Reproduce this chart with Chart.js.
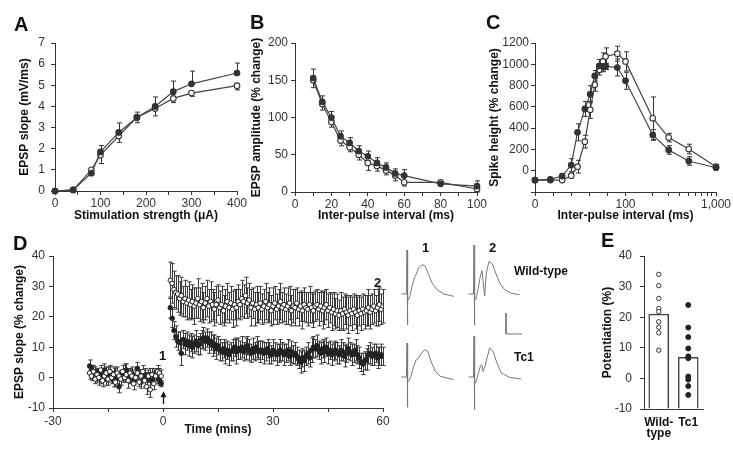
<!DOCTYPE html>
<html>
<head>
<meta charset="utf-8">
<script src="https://cdn.jsdelivr.net/npm/chart.js@4.4.1/dist/chart.umd.min.js"></script>
<style>
    body { margin: 0; background: #fff; }
    #fig { position: relative; width: 733px; height: 450px; overflow: hidden;
           font-family: 'Liberation Sans', Arial, Helvetica, sans-serif; color: #111; }
    #fig canvas { position: absolute; }
    .lbl { position: absolute; font-weight: bold; line-height: 1; white-space: nowrap; }
    .panel { font-size: 20px; }
    .small { font-size: 13px; }
    .name { font-size: 12px; }
</style>
</head>
<body>
<div id="fig">
    <canvas id="chartA" width="255" height="228" style="left:0;top:0"></canvas>
    <canvas id="chartB" width="255" height="228" style="left:240px;top:0"></canvas>
    <canvas id="chartC" width="253" height="228" style="left:480px;top:0"></canvas>
    <canvas id="chartD" width="400" height="220" style="left:0;top:230px"></canvas>
    <canvas id="chartE" width="143" height="220" style="left:590px;top:230px"></canvas>

    <canvas id="traceWT1" width="58" height="87" style="left:399px;top:242px"></canvas>
    <canvas id="traceWT2" width="58" height="87" style="left:466px;top:242px"></canvas>
    <canvas id="traceTc1a" width="58" height="87" style="left:399px;top:325px"></canvas>
    <canvas id="traceTc1b" width="58" height="87" style="left:466px;top:325px"></canvas>
    <canvas id="scaleBar" width="20" height="25" style="left:504px;top:311px"></canvas>

    <div class="lbl panel" style="left:14px;top:14px">A</div>
    <div class="lbl panel" style="left:250px;top:12px">B</div>
    <div class="lbl panel" style="left:486px;top:12px">C</div>
    <div class="lbl panel" style="left:13px;top:233px">D</div>
    <div class="lbl panel" style="left:601px;top:230px">E</div>

    <div class="lbl small" style="left:159px;top:349px">1</div>
    <div class="lbl small" style="left:374px;top:276px">2</div>
    <div class="lbl small" style="left:422px;top:241px">1</div>
    <div class="lbl small" style="left:489px;top:241px">2</div>
    <div class="lbl name" style="left:514px;top:265px">Wild-type</div>
    <div class="lbl name" style="left:514px;top:351px">Tc1</div>
</div>

<script>
// ---- A: input/output curve ----
const stimUA = [0, 40, 80, 100, 140, 180, 220, 260, 300, 400];
const slopeWT = [0, 0.05, 1.0, 1.7, 2.6, 3.48, 3.9, 4.38, 4.63, 4.98];
const slopeWTErr = [0, 0, 0.15, 0.4, 0.3, 0.25, 0.35, 0.2, 0.15, 0.2];
const slopeTc1 = [0, 0.05, 0.84, 1.85, 2.77, 3.48, 4.0, 4.7, 5.07, 5.58];
const slopeTc1Err = [0, 0, 0.2, 0.3, 0.45, 0.25, 0.45, 0.5, 0.6, 0.47];

// ---- B: paired-pulse facilitation ----
const ppfIpi = [10, 15, 20, 25, 30, 35, 40, 45, 50, 55, 60, 80, 100];
const ppfWT = [150, 118, 94, 69, 60, 50, 39, 35, 29, 22, 13, 13, 4];
const ppfWTErr = [10, 8, 7, 7, 6, 7, 10, 7, 6, 7, 5, 3, 4];
const ppfTc1 = [153, 121, 100, 75, 66, 55, 48, 39, 33, 25, 22, 11, 8];
const ppfTc1Err = [12, 8, 8, 7, 7, 7, 7, 7, 6, 6, 8, 3, 7];

// ---- C: population spike facilitation ----
const popIpi = [0, 17, 30, 40, 47, 55, 61, 66, 71, 75, 78, 91, 100, 200, 300, 500, 1000];
const popWT = [-88, -88, -88, -47, 38, 273, 572, 807, 949, 1027, 1074, 1100, 1027, 493, 311, 204, 38];
const popWTErr = [0, 0, 0, 20, 60, 60, 80, 60, 50, 80, 80, 70, 90, 200, 40, 45, 15];
const popTc1 = [-88, -82, -50, 53, 361, 581, 719, 892, 986, 980, 980, 970, 845, 336, 195, 91, 28];
const popTc1Err = [0, 0, 20, 60, 80, 70, 80, 50, 60, 50, 30, 80, 80, 50, 40, 40, 15];

// ---- D: LTP time course (one sample every 30 s) ----
const dStep = 0.5;
const dPreStart = -20;
const dPostStart = 2;
const ltpPreWT = [
    1.5, 0.5, 2.0, -0.5, 1.0, 0.0, 2.5, -1.0, 0.5, 1.5,
    -0.5, 2.0, 0.0, 1.0, -1.5, 1.5, 0.5, -0.5, 2.0, 0.0,
    1.0, -1.0, 1.5, 0.5, -2.0, 0.0, 1.5, -1.5, 0.5, 2.0,
    -1.0, -3.0, 0.5, -4.0, 1.0, -2.0, 0.5, 2.0, 1.5, 0.5];
const ltpPreWTErr = [
    2, 1.5, 2, 1.5, 2, 2.5, 1.5, 2, 1.5, 2,
    2, 1.5, 2, 2.5, 1.5, 2, 1.5, 2, 2, 1.5,
    2, 2.5, 1.5, 2, 2, 1.5, 2, 1.5, 2, 2,
    2, 2.5, 2, 2.5, 2, 2, 1.5, 2, 1.5, 2];
const ltpPreTc1 = [
    3.8, 2.5, 1.5, 2.0, 0.5, 1.5, 0.0, 1.0, 2.5, -0.5,
    1.0, 2.0, 0.5, -1.0, 1.5, 0.0, -3.0, 1.0, 0.5, 2.0,
    2.5, 1.0, 0.0, 1.5, -1.0, 0.5, 3.0, 1.0, -1.5, 0.5,
    1.0, -0.5, 0.0, 1.0, -1.0, 0.5, 1.5, 0.0, -1.0, -2.0];
const ltpPreTc1Err = [
    2, 1.5, 2, 1.5, 2, 1.5, 2, 1.5, 2, 2,
    2.5, 2, 1.5, 2, 1.5, 2, 2, 1.5, 2, 2.5,
    2, 1.5, 2, 2, 1.5, 2, 2, 1.5, 2, 1.5,
    2, 2, 1.5, 2, 1.5, 2, 1.5, 2, 1.5, 1];
const ltpPostWT = [
    32, 31, 29, 28, 27.5, 26, 27, 25, 26, 24.5,
    25.5, 24, 25, 23.5, 24.5, 26, 24, 25, 23, 24.5,
    26, 23.5, 25, 24, 22.5, 24, 25.5, 23, 24, 22,
    23.5, 25, 23, 24.5, 22.5, 24, 23, 25, 24, 26,
    25, 27, 24.5, 25.5, 23, 24.5, 22.5, 24, 23, 24.5,
    22.5, 23.5, 25, 23, 24, 22, 23.5, 24.5, 22.5, 23.5,
    25, 23, 24, 22.5, 23.5, 24.5, 22, 23.5, 23, 24.5,
    22.5, 23.5, 22, 24, 23, 22.5, 24, 23, 22, 23.5,
    24, 22.5, 23.5, 22, 23, 24, 22, 23, 21.5, 22.5,
    21, 22, 20.5, 22, 21, 22.5, 21.5, 20.5, 22, 21,
    22.5, 21.5, 20.5, 22, 21, 22.5, 21.5, 22, 23, 21.5,
    22.5, 23.5, 22, 23, 24, 22.5, 23.5];
const ltpPostWTErr = [
    6, 6.5, 6, 5.5, 6, 5.5, 6, 5, 6, 5.5,
    6, 5, 5.5, 6, 5, 6.5, 5.5, 6, 5, 5.5,
    6, 5.5, 6.5, 5, 5.5, 6, 5, 5.5, 6, 5,
    5.5, 6, 5, 5.5, 6, 5, 6, 5.5, 5, 6,
    5.5, 6, 5, 5.5, 6, 5, 5.5, 6, 5, 5.5,
    5, 5.5, 6, 5, 5.5, 5, 6, 5.5, 5, 5.5,
    6, 5, 5.5, 5, 6, 5.5, 5, 5.5, 6, 5,
    5.5, 5, 6, 5.5, 5, 5.5, 6, 5, 5.5, 5,
    5, 5.5, 5, 6, 5.5, 5, 5.5, 5, 6, 5.5,
    5, 5.5, 5, 6, 5.5, 5, 5.5, 6, 5, 5.5,
    5, 5.5, 6, 5, 5.5, 5, 5.5, 5, 6, 5.5,
    5, 5.5, 5, 6, 5.5, 5, 5.5];
const ltpPostTc1 = [
    23, 19.5, 15.5, 13.5, 12, 11.5, 8, 12.5, 11, 12,
    10.5, 11.5, 10, 11, 12, 10.5, 11, 12.5, 13, 12,
    13, 11.5, 12, 10.5, 11, 9.5, 10.5, 9, 8.5, 9.5,
    8, 9, 7.5, 8.5, 9, 10, 8.5, 9.5, 9, 10,
    8.5, 9.5, 10.5, 9, 8, 9.5, 8.5, 10, 9, 8.5,
    9, 8, 8.5, 9.5, 8, 7.5, 9, 8.5, 7.5, 8,
    9, 8.5, 7.5, 8, 9, 7, 8.5, 7.5, 8, 7,
    6, 5, 6.5, 5.5, 7, 8, 6.5, 9, 10, 9.5,
    10.5, 9, 8, 9.5, 8.5, 10, 8, 9, 7.5, 8.5,
    9, 8, 7.5, 9, 8.5, 7, 8, 9.5, 8.5, 7.5,
    8, 9, 7.5, 6.5, 5, 4.5, 5.5, 6, 7.5, 8,
    7, 7.5, 8, 6.5, 7, 7.5, 7];
const ltpPostTc1Err = [
    3.5, 3, 3, 3.5, 3, 3.5, 4, 3, 3.5, 3,
    3.5, 3, 3.5, 3, 3.5, 3, 3.5, 3, 3.5, 3,
    3, 3.5, 3, 3.5, 3, 3.5, 3, 3.5, 3, 3,
    3.5, 3, 3.5, 3, 3.5, 3, 4, 3.5, 3, 3.5,
    3, 3.5, 3, 3.5, 3, 3.5, 3, 3.5, 3, 3.5,
    3, 3.5, 3, 3, 3.5, 3, 3.5, 3, 3.5, 3,
    3.5, 3, 3.5, 3, 3.5, 3, 3.5, 3, 3.5, 3,
    3, 3.5, 3, 3.5, 3, 3.5, 3, 4, 3.5, 3,
    3.5, 3, 3.5, 3, 3.5, 3, 3.5, 3, 3.5, 3,
    3, 3.5, 3, 3.5, 3, 3.5, 3, 3.5, 3, 3.5,
    3, 3.5, 3, 3.5, 3, 3.5, 3, 3.5, 3, 3.5,
    3, 3.5, 3, 3.5, 3, 3.5, 3];

// ---- D: example field EPSP traces (time, amplitude) ----
const traceWT1X = [-5.7, -0.5, 0, 0.4, 0.8, 1.7, 3.3, 5, 7.3, 8.3, 11.7, 15, 18.3, 21.7, 25, 30, 36.7, 46.7];
const traceWT1Y = [0, 0, 44, -31, -4, -5.7, -0.7, 7.7, 16, 17.7, 26, 29.3, 27.7, 19.3, 11, 4.3, 0, -2.3];
const traceWT2X = [-5.3, -0.5, 0, 0.4, 0.8, 1.7, 4, 6.3, 8, 10.7, 12.3, 15, 18.3, 21.7, 25.7, 30.7, 37.3, 45.7];
const traceWT2Y = [0, 0, 49, -31, -4, -5.7, 4.3, 17.7, 23.3, -2, 21, 32.7, 30, 21, 11, 4.3, 0.7, -0.7];
const traceTc1aX = [-5.7, -0.5, 0, 0.4, 0.8, 1.7, 4, 6.7, 9.3, 11.7, 14, 17.7, 20.7, 24, 28.3, 33.3, 46.7];
const traceTc1aY = [0, 0, 34, -30.3, -3, -4.3, 0.7, 10.7, 17.3, 19, 23, 27.3, 25.7, 15.7, 5.7, 0.7, -2.7];
const traceTc1bX = [-5.3, -0.5, 0, 0.4, 0.8, 1.7, 4, 6.3, 7.7, 9, 10.7, 13, 15.7, 19, 23, 27.3, 35.7, 47];
const traceTc1bY = [0, 0, 40.7, -32.7, -4, -6, 2.3, 10.7, 12.3, 5.7, 9.7, 19, 29, 25.7, 14, 4, -0.3, -2];
const scaleBarX = [0, 0, 16];
const scaleBarY = [21, 0, 0];

// ---- E: potentiation per slice ----
const groups = ['Wild-type', 'Tc1'];
const potMeans = [21, 6.9];
const potWT = [34, 30.3, 26.1, 22.8, 21.8, 18.5, 16.7, 14.9, 9.2];
const potTc1 = [24, 16.6, 13.5, 9.8, 7.2, 6.6, 0.6, -0.4, -2.5, -5.4];

const INK = '#333';

Chart.defaults.font.family = "'Liberation Sans', Arial, Helvetica, sans-serif";
Chart.defaults.font.size = 12;
Chart.defaults.color = INK;
Chart.defaults.animation = false;
Chart.defaults.plugins.legend.display = false;
Chart.defaults.plugins.tooltip.enabled = false;

// error bars drawn from each dataset's "errors" list
const errorBarPlugin = {
    id: 'errorBars',
    beforeDatasetsDraw(chart) {
        const ctx = chart.ctx;
        chart.data.datasets.forEach((ds, i) => {
            if (!ds.errors) return;
            const meta = chart.getDatasetMeta(i);
            const yScale = chart.scales[meta.yAxisID];
            const dir = ds.errorDir || 'both';
            const cap = ds.errorCap || 2.5;
            ctx.save();
            ctx.strokeStyle = ds.errorColor || INK;
            ctx.lineWidth = 1;
            ctx.beginPath();
            meta.data.forEach((pt, j) => {
                const err = ds.errors[j];
                if (!err) return;
                const v = ds.data[j].y;
                const x = Math.round(pt.x) + 0.5;
                const yTop = yScale.getPixelForValue(dir === 'down' ? v : v + err);
                const yBot = yScale.getPixelForValue(dir === 'up' ? v : v - err);
                ctx.moveTo(x, yTop);
                ctx.lineTo(x, yBot);
                if (dir !== 'down') { ctx.moveTo(x - cap, yTop); ctx.lineTo(x + cap, yTop); }
                if (dir !== 'up') { ctx.moveTo(x - cap, yBot); ctx.lineTo(x + cap, yBot); }
            });
            ctx.stroke();
            ctx.restore();
        });
    }
};

// tetanus arrow under the time axis point
const stimArrowPlugin = {
    id: 'stimArrow',
    afterDraw(chart, args, opts) {
        if (opts.at === undefined) return;
        const ctx = chart.ctx;
        const x = Math.round(chart.scales.x.getPixelForValue(opts.at)) + 0.5;
        const yTip = chart.scales.y.getPixelForValue(opts.tip);
        const yTail = chart.scales.y.getPixelForValue(opts.tail);
        ctx.save();
        ctx.strokeStyle = '#111';
        ctx.fillStyle = '#111';
        ctx.lineWidth = 1.3;
        ctx.beginPath();
        ctx.moveTo(x, yTail);
        ctx.lineTo(x, yTip + 4);
        ctx.stroke();
        ctx.beginPath();
        ctx.moveTo(x, yTip);
        ctx.lineTo(x - 3, yTip + 6);
        ctx.lineTo(x + 3, yTip + 6);
        ctx.closePath();
        ctx.fill();
        ctx.restore();
    }
};

Chart.register(errorBarPlugin, stimArrowPlugin);

document.addEventListener('DOMContentLoaded', function() {
    initInputOutputChart();
    initPairedPulseChart();
    initPopSpikeChart();
    initLtpChart();
    initTraces();
    initPotentiationChart();
});

function points(xs, ys, mapX) {
    return xs.map((x, i) => ({ x: mapX ? mapX(x) : x, y: ys[i] }));
}

function xAxis(cfg) {
    return {
        type: 'linear',
        min: cfg.min,
        max: cfg.max,
        afterFit: s => { s.height = cfg.height; },
        afterBuildTicks: cfg.ticks ? s => { s.ticks = cfg.ticks.map(v => ({ value: v })); } : undefined,
        ticks: {
            stepSize: cfg.step,
            padding: cfg.pad,
            autoSkip: false,
            maxRotation: 0,
            callback: cfg.label,
            color: INK
        },
        grid: { drawOnChartArea: false, drawTicks: cfg.tickLen !== 0, tickLength: cfg.tickLen === undefined ? 4 : cfg.tickLen, color: INK },
        border: { color: INK, width: 1 },
        title: {
            display: !!cfg.title,
            text: cfg.title,
            color: '#111',
            font: { size: 12, weight: 'bold' },
            padding: { top: 0, bottom: cfg.titlePad }
        }
    };
}

function yAxis(cfg) {
    return {
        type: 'linear',
        min: cfg.min,
        max: cfg.max,
        afterFit: s => { s.width = cfg.width; },
        ticks: { stepSize: cfg.step, padding: cfg.pad, autoSkip: false, callback: cfg.label, color: INK },
        grid: { drawOnChartArea: false, drawTicks: true, tickLength: 4, color: INK },
        border: { color: INK, width: 1 },
        title: {
            display: true,
            text: cfg.title,
            color: '#111',
            font: { size: 12, weight: 'bold' },
            padding: { top: cfg.titlePad, bottom: 0 }
        }
    };
}

function curveSet(data, errors, open, dir) {
    return {
        data: data,
        errors: errors,
        errorDir: dir,
        showLine: true,
        borderColor: '#444',
        borderWidth: 1.2,
        pointRadius: 2.8,
        pointBorderWidth: 1.1,
        pointBorderColor: INK,
        pointBackgroundColor: open ? '#fff' : INK,
        clip: false
    };
}

/**
 * A - EPSP slope vs stimulation strength
 */
function initInputOutputChart() {
    new Chart(document.getElementById('chartA'), {
        type: 'scatter',
        data: {
            datasets: [
                curveSet(points(stimUA, slopeTc1), slopeTc1Err, false, 'up'),
                curveSet(points(stimUA, slopeWT), slopeWTErr, true, 'down')
            ]
        },
        options: {
            responsive: false,
            layout: { padding: { left: 0, top: 43, right: 18, bottom: 0 } },
            scales: {
                x: xAxis({ min: 0, max: 400, step: 50, pad: 1, height: 37, titlePad: 5,
                    title: 'Stimulation strength (μA)',
                    label: v => (v % 100 === 0 ? String(v) : '') }),
                y: yAxis({ min: 0, max: 7, step: 1, pad: 6, width: 55, titlePad: 17.8,
                    title: 'EPSP slope (mV/ms)' })
            }
        }
    });
}

/**
 * B - paired-pulse EPSP amplitude
 */
function initPairedPulseChart() {
    new Chart(document.getElementById('chartB'), {
        type: 'scatter',
        data: {
            datasets: [
                curveSet(points(ppfIpi, ppfTc1), ppfTc1Err, false, 'up'),
                curveSet(points(ppfIpi, ppfWT), ppfWTErr, true, 'down')
            ]
        },
        options: {
            responsive: false,
            layout: { padding: { left: 0, top: 43, right: 18, bottom: 0 } },
            scales: {
                x: xAxis({ min: 0, max: 100, step: 10, pad: 1, height: 36, titlePad: 5,
                    title: 'Inter-pulse interval (ms)',
                    label: v => (v % 20 === 0 ? String(v) : '') }),
                y: yAxis({ min: 0, max: 200, step: 50, pad: 3, width: 55, titlePad: 9.8,
                    title: 'EPSP amplitude (% change)' })
            }
        }
    });
}

// 0-100 ms linear, 100-1000 ms logarithmic
function ipiAxisPos(ms) {
    return ms <= 100 ? ms / 100 : 1 + Math.log10(ms / 100);
}

/**
 * C - population spike facilitation
 */
function initPopSpikeChart() {
    const tickMs = [0, 20, 40, 60, 80, 100, 200, 300, 400, 500, 600, 700, 800, 900, 1000];
    const tickPos = tickMs.map(ipiAxisPos);
    const labelFor = v => {
        if (Math.abs(v) < 1e-6) return '0';
        if (Math.abs(v - 1) < 1e-6) return '100';
        if (Math.abs(v - 2) < 1e-6) return '1,000';
        return '';
    };
    new Chart(document.getElementById('chartC'), {
        type: 'scatter',
        data: {
            datasets: [
                curveSet(points(popIpi, popTc1, ipiAxisPos), popTc1Err, false, 'both'),
                curveSet(points(popIpi, popWT, ipiAxisPos), popWTErr, true, 'both')
            ]
        },
        options: {
            responsive: false,
            layout: { padding: { left: 0, top: 43, right: 17, bottom: 0 } },
            scales: {
                x: xAxis({ min: 0, max: 2, pad: 1, height: 36, titlePad: 5, ticks: tickPos,
                    title: 'Inter-pulse interval (ms)', label: labelFor }),
                y: yAxis({ min: -200, max: 1200, step: 200, pad: 2, width: 55, titlePad: 7.8,
                    title: 'Spike height (% change)',
                    label: v => (v < 0 ? '' : String(v)) })
            }
        }
    });
}

/**
 * D - LTP time course
 */
function initLtpChart() {
    const preT = ltpPreWT.map((v, i) => dPreStart + i * dStep);
    const postT = ltpPostWT.map((v, i) => dPostStart + i * dStep);
    const times = preT.concat(postT);
    const wt = points(times, ltpPreWT.concat(ltpPostWT));
    const tc1 = points(times, ltpPreTc1.concat(ltpPostTc1));
    const common = { showLine: false, pointRadius: 2.3, pointBorderWidth: 1, pointBorderColor: '#222',
                     errorDir: 'both', errorCap: 2.2, errorColor: '#3a3a3a' };
    new Chart(document.getElementById('chartD'), {
        type: 'scatter',
        data: {
            datasets: [
                Object.assign({ data: wt, errors: ltpPreWTErr.concat(ltpPostWTErr), pointBackgroundColor: '#fff' }, common),
                Object.assign({ data: tc1, errors: ltpPreTc1Err.concat(ltpPostTc1Err), pointBackgroundColor: '#222' }, common)
            ]
        },
        options: {
            responsive: false,
            layout: { padding: { left: 0, top: 26, right: 17, bottom: 0 } },
            plugins: { stimArrow: { at: 0, tip: -4.5, tail: -8.7 } },
            scales: {
                x: xAxis({ min: -30, max: 60, step: 15, pad: 2, height: 42, titlePad: 12.8,
                    title: 'Time (mins)',
                    label: v => (v % 30 === 0 ? String(v) : '') }),
                y: yAxis({ min: -10, max: 40, step: 10, pad: 4, width: 53, titlePad: 12.8,
                    title: 'EPSP slope (% change)' })
            }
        }
    });
}

function drawTrace(id, xs, ys, xRange, yRange) {
    new Chart(document.getElementById(id), {
        type: 'scatter',
        data: {
            datasets: [{
                data: points(xs, ys),
                showLine: true,
                borderColor: '#777',
                borderWidth: 1,
                pointRadius: 0,
                tension: 0
            }]
        },
        options: {
            responsive: false,
            layout: { padding: 0 },
            scales: {
                x: { type: 'linear', display: false, min: xRange[0], max: xRange[1] },
                y: { type: 'linear', display: false, min: yRange[0], max: yRange[1] }
            }
        }
    });
}

/**
 * D (right) - sample traces before (1) and after (2) tetanus
 */
function initTraces() {
    const tx = [-8, 50];
    const ty = [-35, 52];
    drawTrace('traceWT1', traceWT1X, traceWT1Y, tx, ty);
    drawTrace('traceWT2', traceWT2X, traceWT2Y, tx, ty);
    drawTrace('traceTc1a', traceTc1aX, traceTc1aY, tx, ty);
    drawTrace('traceTc1b', traceTc1bX, traceTc1bY, tx, ty);
    drawTrace('scaleBar', scaleBarX, scaleBarY, [-2, 18], [-2, 23]);
}

/**
 * E - potentiation bars with individual slices
 */
function initPotentiationChart() {
    const xPos = groups.map((g, i) => i + 0.5);
    const tickText = v => {
        const idx = Math.round(v - 0.5);
        const name = groups[idx] || '';
        return name.indexOf('-') > 0 ? [name.slice(0, name.indexOf('-') + 1), name.slice(name.indexOf('-') + 1)] : name;
    };
    const xCfg = xAxis({ min: 0, max: 2, pad: 8, height: 41, tickLen: 0, ticks: xPos, label: tickText });
    xCfg.ticks.color = '#111';
    xCfg.ticks.font = { size: 12, weight: 'bold', lineHeight: 0.95 };
    xCfg.offset = false;
    new Chart(document.getElementById('chartE'), {
        type: 'bar',
        data: {
            datasets: [
                { type: 'bar', data: points(xPos, potMeans), base: -10, barThickness: 20,
                  backgroundColor: '#fff', borderColor: '#444', borderWidth: 1.5, order: 2 },
                { type: 'scatter', data: potWT.map(v => ({ x: xPos[0], y: v })), pointRadius: 2.2,
                  pointBorderWidth: 1, pointBorderColor: INK, pointBackgroundColor: '#fff', order: 1 },
                { type: 'scatter', data: potTc1.map(v => ({ x: xPos[1], y: v })), pointRadius: 2.5,
                  pointBorderWidth: 1, pointBorderColor: '#222', pointBackgroundColor: '#222', order: 1 }
            ]
        },
        options: {
            responsive: false,
            layout: { padding: { left: 0, top: 26, right: 30, bottom: 0 } },
            scales: {
                x: xCfg,
                y: yAxis({ min: -10, max: 40, step: 10, pad: 8, width: 54, titlePad: 10.8,
                    title: 'Potentiation (%)' })
            }
        }
    });
}
</script>
</body>
</html>
